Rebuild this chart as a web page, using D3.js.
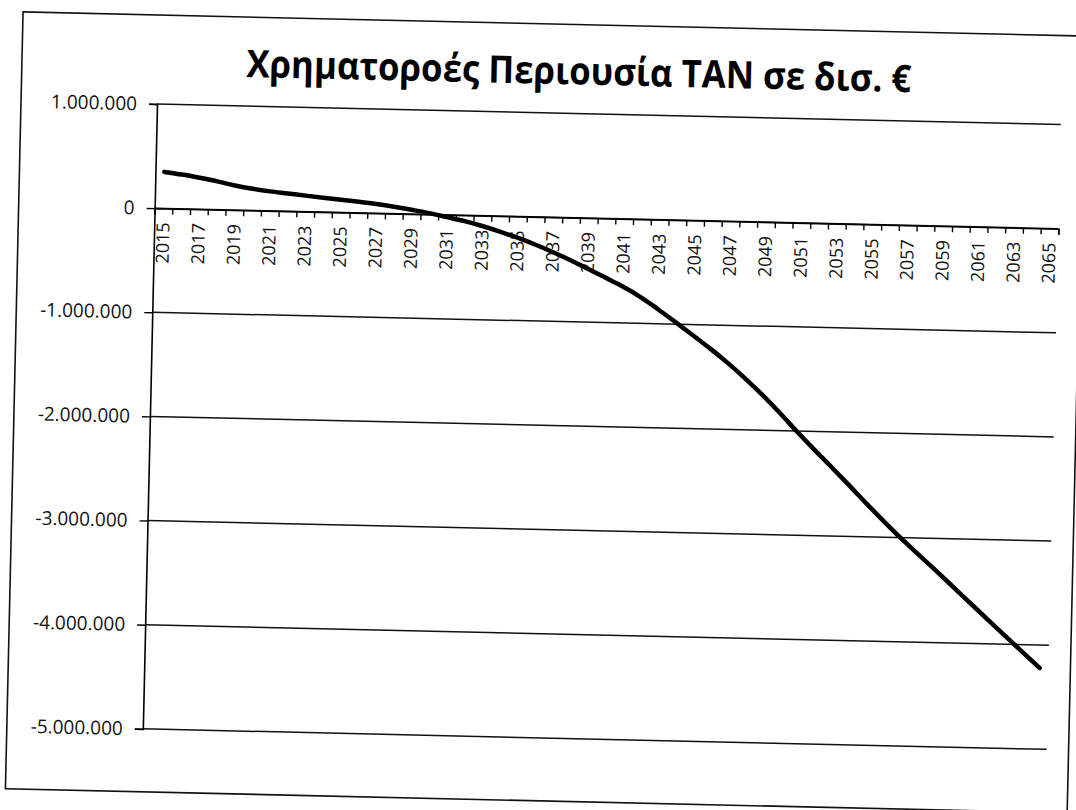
<!DOCTYPE html>
<html>
<head>
<meta charset="utf-8">
<script src="https://cdn.jsdelivr.net/npm/d3@7"></script>
<style>
  html, body { margin: 0; padding: 0; background: #fff; }
  svg { display: block; }
  .tick text { font-family: "Open Sans", "DejaVu Sans", sans-serif; fill: #111; }
</style>
</head>
<body>
<svg id="chart"></svg>
<script>
// Χρηματοροές Περιουσία ΤΑΝ – τιμές διαβασμένες από το γράφημα
const years = d3.range(2015, 2066);
const cashflow = [
    350000, 328000, 301000, 271000, 235000, 207000, 186000, 170000, 153000, 137000,
    122000, 106000, 88000, 66000, 40000, 12000, -22000, -57000, -100000, -150000,
    -205000, -266000, -334000, -408000, -487000, -568000, -650000, -745000, -858000, -978000,
    -1100000, -1225000, -1358000, -1502000, -1658000, -1826000, -2002000, -2172000, -2337000, -2505000,
    -2676000, -2842000, -3003000, -3155000, -3305000, -3458000, -3612000, -3765000, -3917000, -4069000,
    -4220000
];
const yTicks = [1000000, 0, -1000000, -2000000, -3000000, -4000000, -5000000];
const title = 'Χρηματοροές Περιουσία ΤΑΝ σε δισ. €';

const W = 1076, H = 810;
const margin = { left: 157, top: 104 };
const plotW = 904, plotH = 625;
const tilt = 1.3; // το σκαναρισμένο φύλλο είναι λίγο στραβό

const locale = d3.formatLocale({ decimal: ',', thousands: '.', grouping: [3], currency: ['€', ''], minus: '-' });
const fmt = locale.format(',.0f');

const svg = d3.select('#chart').attr('width', W).attr('height', H);
const page = svg.append('g')
    .attr('transform', 'rotate(' + tilt + ',' + margin.left + ',' + margin.top + ')');

// πλαίσιο γραφήματος
page.append('rect')
    .attr('x', 21).attr('y', 15)
    .attr('width', 1062).attr('height', 777)
    .attr('fill', 'none')
    .attr('stroke', '#111')
    .attr('stroke-width', 1.6);

page.append('text')
    .attr('x', 578).attr('y', 75)
    .attr('text-anchor', 'middle')
    .attr('font-family', '"Open Sans", "DejaVu Sans", sans-serif')
    .attr('font-weight', 'bold')
    .attr('font-size', 38)
    .attr('textLength', 665)
    .attr('lengthAdjust', 'spacingAndGlyphs')
    .attr('fill', '#000')
    .text(title);

const plot = page.append('g')
    .attr('transform', 'translate(' + margin.left + ',' + margin.top + ')');

const x = d3.scaleBand().domain(years).range([0, plotW]).padding(0);
const xEdge = d3.scaleLinear().domain([0, years.length]).range([0, plotW]);
const y = d3.scaleLinear().domain([-5000000, 1000000]).range([plotH, 0]);

// γραμμές πλέγματος
plot.append('g')
    .attr('class', 'grid')
    .selectAll('line')
    .data(yTicks)
    .enter()
    .append('line')
    .attr('x1', 0).attr('x2', plotW)
    .attr('y1', d => y(d)).attr('y2', d => y(d))
    .attr('stroke', '#111')
    .attr('stroke-width', 1.5);

// άξονας Υ
const yAxis = plot.append('g')
    .call(d3.axisLeft(y).tickValues(yTicks).tickFormat(fmt).tickSize(8).tickPadding(12));
yAxis.select('.domain').attr('stroke', '#000').attr('stroke-width', 1.6);
yAxis.selectAll('.tick line').attr('stroke', '#000').attr('stroke-width', 1.4);
yAxis.selectAll('text').attr('font-size', 19);

// άξονας Χ στο μηδέν
const xAxisG = plot.append('g').attr('transform', 'translate(0,' + y(0) + ')');
const xTicks = xAxisG.append('g')
    .call(d3.axisBottom(xEdge).tickValues(d3.range(years.length + 1)).tickFormat('').tickSize(6));
xTicks.select('.domain').attr('stroke', '#000').attr('stroke-width', 1.6);
xTicks.selectAll('.tick line').attr('stroke', '#000').attr('stroke-width', 1.4);

const xLabels = xAxisG.append('g')
    .call(d3.axisBottom(x).tickValues(years.filter((d, i) => i % 2 === 0)).tickSize(0));
xLabels.select('.domain').remove();
xLabels.selectAll('text')
    .attr('font-size', 18)
    .attr('transform', 'rotate(-90)')
    .attr('x', -14)
    .attr('y', 0)
    .attr('dy', '0.35em')
    .style('text-anchor', 'end');

// καμπύλη
const line = d3.line()
    .x((d, i) => x(years[i]) + x.bandwidth() / 2)
    .y(d => y(d))
    .curve(d3.curveMonotoneX);

plot.append('path')
    .datum(cashflow)
    .attr('d', line)
    .attr('fill', 'none')
    .attr('stroke', '#000')
    .attr('stroke-width', 4.5)
    .attr('stroke-linecap', 'round')
    .attr('stroke-linejoin', 'round');
</script>
</body>
</html>
